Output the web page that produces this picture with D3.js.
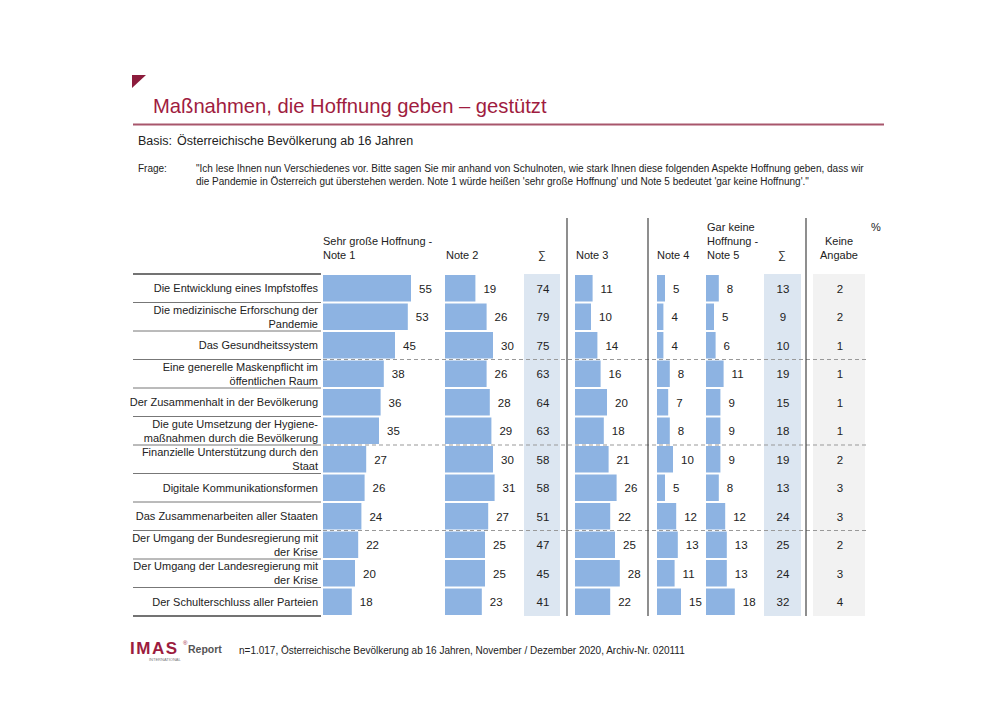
<!DOCTYPE html>
<html><head><meta charset="utf-8">
<script src="https://cdn.jsdelivr.net/npm/d3@7/dist/d3.min.js"></script>
<style>
body{margin:0;background:#fff;}
svg{display:block;font-family:"Liberation Sans",Arial,sans-serif;}
</style></head><body>
<svg id="c" width="1000" height="707"></svg>
<script>
const categories = [
  ["Die Entwicklung eines Impfstoffes"],
  ["Die medizinische Erforschung der","Pandemie"],
  ["Das Gesundheitssystem"],
  ["Eine generelle Maskenpflicht im","öffentlichen Raum"],
  ["Der Zusammenhalt in der Bevölkerung"],
  ["Die gute Umsetzung der Hygiene-","maßnahmen durch die Bevölkerung"],
  ["Finanzielle Unterstützung durch den","Staat"],
  ["Digitale Kommunikationsformen"],
  ["Das Zusammenarbeiten aller Staaten"],
  ["Der Umgang der Bundesregierung mit","der Krise"],
  ["Der Umgang der Landesregierung mit","der Krise"],
  ["Der Schulterschluss aller Parteien"]
];
const note1 = [55,53,45,38,36,35,27,26,24,22,20,18];
const note2 = [19,26,30,26,28,29,30,31,27,25,25,23];
const sum12 = [74,79,75,63,64,63,58,58,51,47,45,41];
const note3 = [11,10,14,16,20,18,21,26,22,25,28,22];
const note4 = [5,4,4,8,7,8,10,5,12,13,11,15];
const note5 = [8,5,6,11,9,9,9,8,12,13,13,18];
const sum45 = [13,9,10,19,15,18,19,13,24,25,24,32];
const keine = [2,2,1,1,1,1,2,3,3,2,3,4];
const dashedAfter = [2,5,8];

(function(){
const svg = d3.select("#c");
const red = "#8c1c3c";
const barCol = "#8db3e2";
const txt = "#222";

// header
svg.append("path").attr("d","M132,75 L146,75 L132,88 Z").attr("fill",red);
svg.append("text").attr("x",153).attr("y",113).attr("fill","#a01c40").attr("font-size",20.2).text("Maßnahmen, die Hoffnung geben – gestützt");
svg.append("line").attr("x1",133).attr("x2",884).attr("y1",124.5).attr("y2",124.5).attr("stroke","#a8566c").attr("stroke-width",2);
svg.append("text").attr("x",138).attr("y",145).attr("font-size",12.5).attr("fill",txt).text("Basis:");
svg.append("text").attr("x",177).attr("y",145).attr("font-size",12.5).attr("fill",txt).text("Österreichische Bevölkerung ab 16 Jahren");
svg.append("text").attr("x",138).attr("y",172).attr("font-size",10).attr("fill",txt).text("Frage:");
svg.append("text").attr("x",196).attr("y",172).attr("font-size",10).attr("fill",txt).text("\"Ich lese Ihnen nun Verschiedenes vor. Bitte sagen Sie mir anhand von Schulnoten, wie stark Ihnen diese folgenden Aspekte Hoffnung geben, dass wir");
svg.append("text").attr("x",196).attr("y",185).attr("font-size",10).attr("fill",txt).text("die Pandemie in Österreich gut überstehen werden. Note 1 würde heißen 'sehr große Hoffnung' und Note 5 bedeutet 'gar keine Hoffnung'.\"");

// scales
const y = d3.scaleBand().domain(d3.range(categories.length)).range([274,616]);
const x = d3.scaleLinear().domain([0,100]).range([0,160]);

// background columns
const y0 = y.range()[0], y1 = y.range()[1];
svg.append("rect").attr("x",524).attr("y",y0).attr("width",36).attr("height",y1-y0).attr("fill","#dce6f1");
svg.append("rect").attr("x",764).attr("y",y0).attr("width",37).attr("height",y1-y0).attr("fill","#dce6f1");
svg.append("rect").attr("x",813).attr("y",y0).attr("width",52).attr("height",y1-y0).attr("fill","#f2f2f2");

// column headers
const hs = 11;
function ht(xp, yp, s, anchor){ svg.append("text").attr("x",xp).attr("y",yp).attr("font-size",hs).attr("fill",txt).attr("text-anchor",anchor||"start").text(s); }
ht(323,245,"Sehr große Hoffnung -"); ht(323,259,"Note 1");
ht(446,259,"Note 2"); ht(542,259,"∑","middle");
ht(576,259,"Note 3"); ht(657,259,"Note 4");
ht(707,231,"Gar keine"); ht(707,245,"Hoffnung -"); ht(707,259,"Note 5");
ht(782,259,"∑","middle");
ht(839,245,"Keine","middle"); ht(839,259,"Angabe","middle");
ht(876,231,"%","middle");

// row separators (label column)
const seps = d3.range(categories.length+1).map(i => i<categories.length ? y(i) : y1);
svg.selectAll(".sep").data(seps).join("line")
  .attr("x1",133).attr("x2",321).attr("y1",d=>d).attr("y2",d=>d)
  .attr("stroke",(d,i)=> (i===0||i===seps.length-1)?"#444":"#777").attr("stroke-width",(d,i)=> (i===0||i===seps.length-1)?1.4:1);

// dashed separators
svg.selectAll(".dash").data(dashedAfter).join("line")
  .attr("x1",323).attr("x2",866).attr("y1",d=>y(d)+y.bandwidth()).attr("y2",d=>y(d)+y.bandwidth())
  .attr("stroke","#999").attr("stroke-dasharray","4,3").attr("stroke-width",1);

// labels
categories.forEach((lines,i)=>{
  const cy = y(i)+y.bandwidth()/2;
  const t = svg.append("text").attr("text-anchor","end").attr("font-size",11).attr("fill",txt);
  const n = lines.length;
  lines.forEach((l,k)=>{
    t.append("tspan").attr("x",318).attr("y",cy + 4 + (k-(n-1)/2)*14).text(l);
  });
});

// bar groups
function barGroup(data, x0){
  const g = svg.append("g");
  g.selectAll("rect").data(data).join("rect")
    .attr("x",x0).attr("y",(d,i)=>y(i)+1).attr("width",d=>x(d)).attr("height",y.bandwidth()-2).attr("fill",barCol);
  g.selectAll("text").data(data).join("text")
    .attr("x",d=>x0+x(d)+8).attr("y",(d,i)=>y(i)+y.bandwidth()/2+4.5)
    .attr("font-size",11.5).attr("fill",txt).text(d=>d);
}
barGroup(note1,323);
barGroup(note2,445);
barGroup(note3,575);
barGroup(note4,657);
barGroup(note5,706);

function colText(data, cx){
  svg.append("g").selectAll("text").data(data).join("text")
    .attr("x",cx).attr("y",(d,i)=>y(i)+y.bandwidth()/2+4.5).attr("text-anchor","middle")
    .attr("font-size",11.5).attr("fill",txt).text(d=>d);
}
colText(sum12,543);
colText(sum45,783);
colText(keine,840);

// vertical dividers
[567,648,806].forEach(xv=>{
  svg.append("line").attr("x1",xv).attr("x2",xv).attr("y1",218).attr("y2",y1).attr("stroke","#444").attr("stroke-width",1.2);
});

// footer
const logo = svg.append("g");
logo.append("text").attr("x",130).attr("y",654).attr("font-size",17).attr("font-weight","bold").attr("fill","#9c1c3e").attr("letter-spacing",1.5).text("IMAS");
logo.append("text").attr("x",183).attr("y",645).attr("font-size",6).attr("fill","#9c1c3e").text("®");
logo.append("text").attr("x",188).attr("y",653).attr("font-size",10.5).attr("font-weight","bold").attr("fill","#555").text("Report");
logo.append("text").attr("x",149).attr("y",661).attr("font-size",4).attr("fill","#777").text("INTERNATIONAL");
svg.append("text").attr("x",239).attr("y",654).attr("font-size",10).attr("fill",txt).text("n=1.017, Österreichische Bevölkerung ab 16 Jahren, November / Dezember 2020, Archiv-Nr. 020111");
})();
</script>
</body></html>
